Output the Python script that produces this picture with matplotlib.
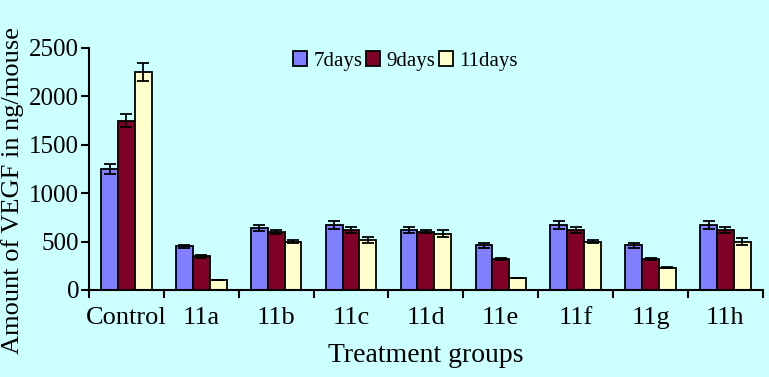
import numpy as np
import matplotlib
matplotlib.use("Agg")
import matplotlib.pyplot as plt

groups = ["Control", "11a", "11b", "11c", "11d", "11e", "11f", "11g", "11h"]
series = ["7days", "9days", "11days"]
d7 = [1250, 450, 640, 670, 620, 460, 670, 460, 670]
d9 = [1750, 350, 600, 620, 600, 320, 620, 320, 620]
d11 = [2250, 100, 500, 520, 580, 120, 500, 230, 500]
e7 = [50, 15, 35, 40, 30, 25, 40, 30, 40]
e9 = [70, 15, 20, 35, 15, 15, 35, 15, 30]
e11 = [90, 0, 15, 30, 35, 0, 15, 5, 35]

colors = ["#8080FF", "#800028", "#FFFFCC"]
bg = "#CCFFFF"

plt.rcParams["font.family"] = ["Liberation Serif", "DejaVu Serif"]

fig = plt.figure(figsize=(7.69, 3.77), dpi=100, facecolor=bg)
ax = fig.add_axes([0.1157, 0.2308, 0.8763, 0.642])
ax.set_facecolor(bg)

x = np.arange(len(groups))
w = 0.225
for i, (vals, errs) in enumerate([(d7, e7), (d9, e9), (d11, e11)]):
    ax.bar(x + (i - 1) * w, vals, w, color=colors[i], edgecolor="black",
           linewidth=1.3, label=series[i], zorder=2)
    ax.errorbar(x + (i - 1) * w, vals, yerr=errs, fmt="none", ecolor="black",
                elinewidth=1.3, capsize=4, capthick=1.3, zorder=3)

ax.set_xlim(-0.5, len(groups) - 0.5)
ax.set_ylim(0, 2500)
ax.set_yticks([0, 500, 1000, 1500, 2000, 2500])
ax.set_xticks(x)
ax.set_xticklabels(groups)
ax.set_xticks(np.arange(len(groups) + 1) - 0.5, minor=True)
ax.tick_params(axis="x", which="major", length=0, pad=12, labelsize=19)
ax.tick_params(axis="x", which="minor", length=6, width=1.5, direction="out")
ax.tick_params(axis="y", length=6, width=1.5, labelsize=18, pad=1)
for s in ["top", "right"]:
    ax.spines[s].set_visible(False)
for s in ["left", "bottom"]:
    ax.spines[s].set_linewidth(1.5)

ax.set_xlabel("Treatment groups", fontsize=20, labelpad=10)
ax.set_ylabel("Amount of VEGF in ng/mouse", fontsize=19)
ax.yaxis.set_label_coords(-0.097, 0.413)

ax.legend(loc="center left", bbox_to_anchor=(0.29, 0.945), ncol=3, frameon=False,
          fontsize=15, handlelength=0.7, handleheight=0.7, handletextpad=0.3,
          columnspacing=0.15, borderaxespad=0.0)

fig.savefig("out.png", dpi=100, facecolor=bg)
